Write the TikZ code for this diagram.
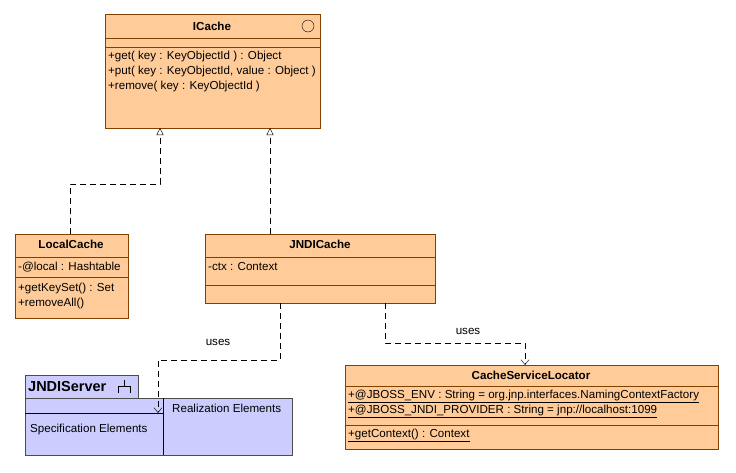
\documentclass[tikz,border=0pt]{standalone}
\usepackage{fontspec}
\setmainfont{Liberation Sans}
\usetikzlibrary{arrows.meta}
\definecolor{clsfill}{RGB}{255,204,153}
\definecolor{pkgfill}{RGB}{204,204,255}
\definecolor{clsline}{RGB}{128,64,0}
\begin{document}
\begin{tikzpicture}[
  x=1pt, y=-1pt,
  font=\fontsize{11.6}{13}\selectfont,
  cls/.style={draw=clsline, fill=clsfill, line width=0.8pt},
  pkg/.style={draw=black!70, fill=pkgfill, line width=0.8pt},
  sep/.style={draw=clsline, line width=0.6pt},
  txt/.style={anchor=west, inner sep=0pt},
  ttl/.style={font=\fontsize{11.6}{13}\selectfont\bfseries, inner sep=0pt},
  real/.style={dashed, dash pattern=on 6pt off 4pt, -{Triangle[open,length=7pt,width=7pt]}},
  dep/.style={dashed, dash pattern=on 6pt off 4pt, -{Straight Barb[length=5pt,width=8pt]}}
  ]
\fill[white] (0,0) rectangle (736,472);

% ICache
\draw[cls] (105,14) rectangle (320,128);
\node[ttl] (icache) at (212,26) {ICache};
\draw (308,26) circle (6pt);
\draw[sep] (105,38) -- (320,38);
\draw[sep] (105,47) -- (320,47);
\node[txt] at (108,56) {+get( key : KeyObjectId ) : Object};
\node[txt] at (108,71) {+put( key : KeyObjectId, value : Object )};
\node[txt] at (108,86) {+remove( key : KeyObjectId )};
\coordinate (icL) at (160,128);
\coordinate (icR) at (270,128);

% LocalCache
\draw[cls] (15,234) rectangle (128,318);
\node[ttl] (local) at (71,244) {LocalCache};
\draw[sep] (15,257) -- (128,257);
\node[txt] at (18,267) {-@local : Hashtable};
\draw[sep] (15,277) -- (128,277);
\node[txt] at (18,288) {+getKeySet() : Set};
\node[txt] at (18,303) {+removeAll()};
\coordinate (lcT) at (70,234);

% JNDICache
\draw[cls] (205,234) rectangle (435,303);
\node[ttl] (jndi) at (320,244) {JNDICache};
\draw[sep] (205,257) -- (435,257);
\node[txt] at (208,267) {-ctx : Context};
\draw[sep] (205,285) -- (435,285);
\coordinate (jcT) at (270,234);
\coordinate (jcB1) at (280,303);
\coordinate (jcB2) at (385,303);

% CacheServiceLocator
\draw[cls] (345,365) rectangle (718,449);
\node[ttl] (locator) at (531,375) {CacheServiceLocator};
\draw[sep] (345,386) -- (718,386);
\node[txt] at (348,396) {\underline{+@JBOSS\_ENV : String = org.jnp.interfaces.NamingContextFactory}};
\node[txt] at (348,411) {\underline{+@JBOSS\_JNDI\_PROVIDER : String = jnp://localhost:1099}};
\draw[sep] (345,425) -- (718,425);
\node[txt] at (348,435) {\underline{+getContext() : Context}};
\coordinate (slT) at (525,365);

% JNDIServer
\draw[pkg] (25,375) rectangle (138,398);
\node[txt, font=\fontsize{14.5}{16}\selectfont\bfseries] (server) at (28,387) {JNDIServer};
\draw (118,393) -- (118,386) -- (130,386) -- (130,393) (124,386) -- (124,380);
\draw[pkg] (25,398) rectangle (292,455);
\draw (25,413) -- (163,413);
\draw (163,398) -- (163,455);
\node[txt] at (30,429) {Specification Elements};
\node[txt] at (172,408) {Realization Elements};
\coordinate (svT) at (158,413);

% connectors
\draw[real] (lcT) -- (70,184) -- (160,184) -- (icL);
\draw[real] (jcT) -- (icR);
\draw[dep] (jcB1) -- (280,360) -- (158,360) -- (svT);
\node at (218,342) {uses};
\draw[dep] (jcB2) -- (385,343) -- (525,343) -- (slT);
\node at (468,331) {uses};
\end{tikzpicture}
\end{document}
